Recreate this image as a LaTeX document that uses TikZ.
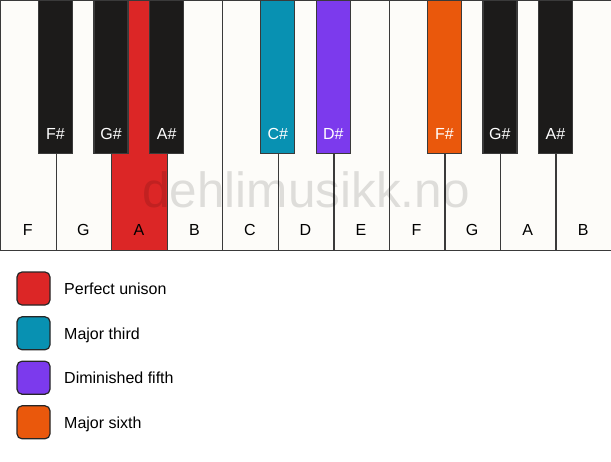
\documentclass[tikz,border=0pt]{standalone}
\usepackage{fontspec}
\setmainfont{Liberation Sans}
\definecolor{keywhite}{HTML}{FDFCF9}
\definecolor{keyblack}{HTML}{1C1B1A}
\definecolor{keyline}{HTML}{3A3A3A}
\definecolor{unison}{HTML}{DC2626}
\definecolor{third}{HTML}{0891B2}
\definecolor{fifth}{HTML}{7C3AED}
\definecolor{sixth}{HTML}{EA580C}
\begin{document}
\begin{tikzpicture}[x=1pt,y=-1pt,
 whitekey/.style={rectangle, draw=keyline, line width=1.3pt, fill=keywhite, minimum width=55.545pt, minimum height=250pt, inner sep=0pt, anchor=north west},
 blackkey/.style={rectangle, draw=keyline, line width=1.3pt, fill=keyblack, minimum width=34pt, minimum height=153pt, inner sep=0pt, anchor=north},
 wlabel/.style={font=\fontsize{16}{19}\selectfont, text=black, inner sep=0pt, anchor=base},
 blabel/.style={font=\fontsize{16}{19}\selectfont, text=white, inner sep=0pt, anchor=base},
 swatch/.style={rectangle, draw=black!85, line width=1.2pt, rounded corners=5pt, minimum size=33pt, inner sep=0pt},
 legtext/.style={font=\fontsize{16}{19}\selectfont, anchor=base west, inner sep=0pt}]
\fill[white] (0,0) rectangle (611,461);
\useasboundingbox (0,0) rectangle (611,461);
% white keys
\foreach \i/\n/\c in {0/F/keywhite,1/G/keywhite,2/A/unison,3/B/keywhite,4/C/keywhite,5/D/keywhite,6/E/keywhite,7/F/keywhite,8/G/keywhite,9/A/keywhite,10/B/keywhite}{
  \node[whitekey, fill=\c] (w\i) at (\i*55.545,0) {};
  \node[wlabel] (wl\i) at (\i*55.545+27.77,235.8) {\n};
}
% watermark
\node[font=\fontsize{49.5}{54}\selectfont, text=black, text opacity=0.12, inner sep=0pt, anchor=base] (wm) at (306,207.5) {dehlimusikk.no};
% black keys
\foreach \b/\n/\c in {1/F\#/keyblack,2/G\#/keyblack,3/A\#/keyblack,5/C\#/third,6/D\#/fifth,8/F\#/sixth,9/G\#/keyblack,10/A\#/keyblack}{
  \node[blackkey, fill=\c] (b\b) at (\b*55.545,0) {};
  \node[blabel] (bl\b) at (\b*55.545,139) {\n};
}
% legend
\foreach \k/\y/\c/\t in {1/288.5/unison/Perfect unison,2/333.3/third/Major third,3/377.7/fifth/Diminished fifth,4/422.3/sixth/Major sixth}{
  \node[swatch, fill=\c] (s\k) at (33.5,\y) {};
  \node[legtext] (t\k) at (64,\y+5.8) {\t};
}
\end{tikzpicture}
\end{document}
